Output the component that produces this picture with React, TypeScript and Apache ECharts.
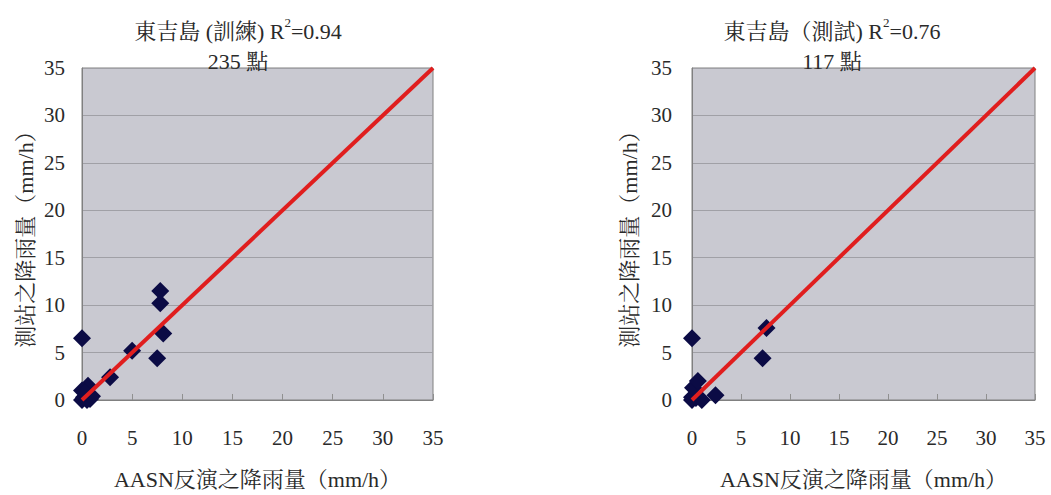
import React, { useEffect, useRef } from "react";
import * as echarts from "echarts";

const trainPoints: number[][] = [
  [0, 0], [0.2, 0.3], [0.5, 0], [0.8, 0.1], [0, 1.0], [0.6, 1.5], [0.3, 0.8], [1.0, 0.4],
  [0, 6.5], [2.8, 2.4], [5.0, 5.2], [7.5, 4.4], [8.1, 7.0], [7.8, 10.2], [7.8, 11.5],
];
const testPoints: number[][] = [
  [0, 0], [0.4, 0.2], [1.0, 0], [0, 0.3], [0.1, 1.3], [0.6, 2.0],
  [0, 6.5], [2.4, 0.5], [7.2, 4.4], [7.6, 7.6],
];
const fitLine: number[][] = [[0, 0], [35, 35]];
const axisMin = 0;
const axisMax = 35;
const axisStep = 5;
const titles = [
  { head: "東吉島 (訓練) R", sup: "2", tail: "=0.94", count: "235 點" },
  { head: "東吉島（測試) R", sup: "2", tail: "=0.76", count: "117 點" },
];
const xName = "AASN反演之降雨量（mm/h）";
const yName = "測站之降雨量（mm/h）";

const FONT = "'Liberation Serif','Noto Serif CJK TC','Noto Sans CJK TC',serif";
const TXT = "#2a2a2a";

export default function App() {
  const ref = useRef<HTMLDivElement>(null);
  useEffect(() => {
    if (!ref.current) return;
    const chart = echarts.init(ref.current, undefined, { renderer: "svg" });
    const grids = [
      { left: 82, top: 68, width: 351, height: 335 },
      { left: 692, top: 68, width: 343, height: 335 },
    ];
    const titleCenters = [233, 827];
    const mkTitle = (i: number) => ({
      text: `{a|${titles[i].head}}{s|${titles[i].sup}}{a|${titles[i].tail}}\n{a|${titles[i].count}}`,
      left: titleCenters[i],
      top: 11,
      textAlign: "center",
      textStyle: {
        fontWeight: "normal",
        rich: {
          a: { fontFamily: FONT, fontSize: 22, fontWeight: "normal", color: TXT, lineHeight: 30 },
          s: { fontFamily: FONT, fontSize: 13, fontWeight: "normal", color: TXT, lineHeight: 18, verticalAlign: "top" },
        },
      },
    });
    const mkX = (i: number) => ({
      type: "value",
      gridIndex: i,
      min: axisMin,
      max: axisMax,
      interval: axisStep,
      name: xName,
      nameLocation: "middle",
      nameGap: 68,
      nameTextStyle: { fontFamily: FONT, fontSize: 22, color: TXT },
      axisLine: { show: true, lineStyle: { color: "#808080", width: 1 } },
      axisTick: { show: true, inside: true, length: 6, lineStyle: { color: "#909090" } },
      axisLabel: { fontFamily: FONT, fontSize: 21, color: TXT, margin: 28 },
      splitLine: { show: false },
    });
    const mkY = (i: number) => ({
      type: "value",
      gridIndex: i,
      min: axisMin,
      max: axisMax,
      interval: axisStep,
      name: yName,
      nameLocation: "middle",
      nameGap: i === 0 ? 46 : 52,
      nameTextStyle: { fontFamily: FONT, fontSize: 22, color: TXT },
      axisLine: { show: true, lineStyle: { color: "#808080", width: 1 } },
      axisTick: { show: false },
      axisLabel: { fontFamily: FONT, fontSize: 21, color: TXT, margin: i === 0 ? 17 : 20 },
      splitLine: { show: true, lineStyle: { color: "#a0a0a6", width: 1 } },
    });
    const scatter = (i: number, data: number[][]) => ({
      type: "scatter",
      xAxisIndex: i,
      yAxisIndex: i,
      data,
      symbol: "diamond",
      symbolSize: 18,
      itemStyle: { color: "#0b0b45", opacity: 1 },
      z: 2,
    });
    const line = (i: number) => ({
      type: "line",
      xAxisIndex: i,
      yAxisIndex: i,
      data: fitLine,
      symbol: "none",
      lineStyle: { color: "#e01e1e", width: 4 },
      z: 3,
    });
    chart.setOption({
      animation: false,
      backgroundColor: "#ffffff",
      title: [mkTitle(0), mkTitle(1)],
      grid: grids.map((g) => ({
        ...g,
        show: true,
        backgroundColor: "#c9c9d1",
        borderColor: "#808080",
        borderWidth: 1,
      })),
      xAxis: [mkX(0), mkX(1)],
      yAxis: [mkY(0), mkY(1)],
      series: [scatter(0, trainPoints), line(0), scatter(1, testPoints), line(1)],
    });
    return () => chart.dispose();
  }, []);
  return (
    <div
      ref={ref}
      style={{ position: "fixed", left: 0, top: 0, width: 1051, height: 495 }}
    />
  );
}
